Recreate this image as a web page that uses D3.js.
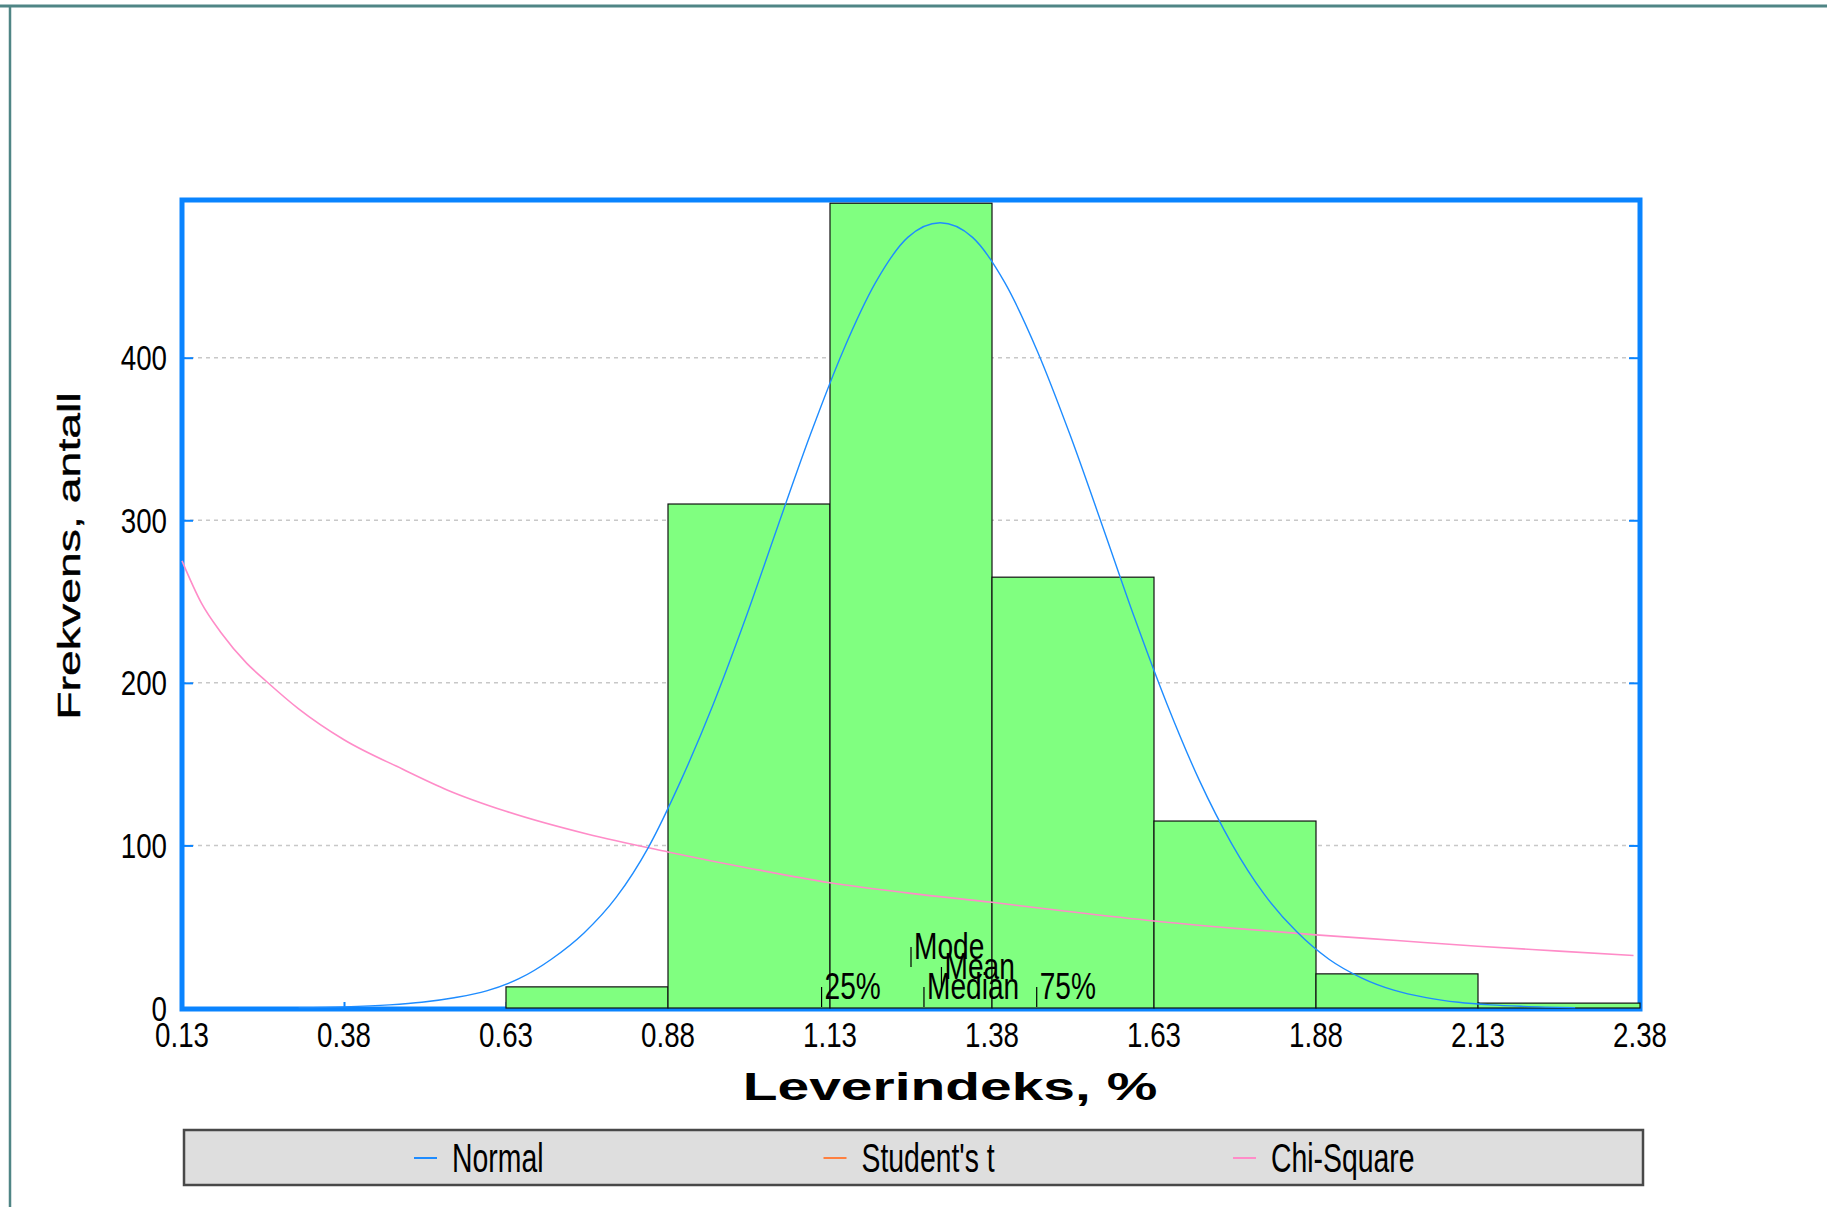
<!DOCTYPE html>
<html>
<head>
<meta charset="utf-8">
<script src="https://cdn.jsdelivr.net/npm/d3@7"></script>
<style>
  body { margin: 0; background: #fff; }
  text { font-family: "Liberation Sans", Arial, sans-serif; fill: #000; }
</style>
</head>
<body>
<script>
  // histogram bins (edges = x tick labels) and counts
  var xTicks = [0.13, 0.38, 0.63, 0.88, 1.13, 1.38, 1.63, 1.88, 2.13, 2.38];
  var yTicks = [0, 100, 200, 300, 400];
  var counts = [0, 0, 13, 310, 495, 265, 115, 21, 3];

  // fitted normal curve
  var normalX = [0.31, 0.38, 0.45, 0.50, 0.55, 0.60, 0.65, 0.70, 0.75, 0.80, 0.85, 0.90, 0.95, 1.00,
    1.05, 1.10, 1.15, 1.20, 1.25, 1.30, 1.35, 1.40, 1.45, 1.50, 1.55, 1.60, 1.65, 1.70, 1.75,
    1.80, 1.85, 1.90, 1.95, 2.00, 2.05, 2.10, 2.15, 2.20, 2.28];
  var normalY = [0.2, 0.7, 1.9, 3.5, 6.3, 10.5, 18, 30, 46, 68, 99, 140, 187, 240,
    297, 353, 404, 446, 474, 483, 474, 446, 404, 353, 297, 240, 187, 140, 101,
    70, 47, 30, 18.6, 11, 6.4, 3.5, 1.9, 1, 0.2];

  // chi-square curve
  var chiX = [0.13, 0.16, 0.19, 0.23, 0.26, 0.31, 0.38, 0.47, 0.54, 0.63, 0.755, 0.88, 1.005, 1.13, 1.255,
    1.38, 1.505, 1.63, 1.755, 1.88, 2.005, 2.13, 2.255, 2.37];
  var chiY = [275, 249, 231, 212, 201, 184, 165, 147, 134, 121, 107, 96, 86, 77, 70.5,
    65, 59, 53.5, 49, 45, 41.5, 38, 35, 32.3];

  // statistic markers (placement order: quartiles, median, mean, mode)
  var markerNames = ["25%", "Median", "75%", "Mean", "Mode"];
  var markerValues = [1.117, 1.275, 1.449, 1.302, 1.255];

  var legendNames = ["Normal", "Student's t", "Chi-Square"];
  var legendColors = ["#1e8cff", "#ff8040", "#ff8cc8"];

  var W = 1827, H = 1207;
  var pLeft = 182, pRight = 1640, pTop = 200, pBottom = 1008;
  var blue = "#0a84ff";

  var svg = d3.select("body").append("svg")
    .attr("width", W)
    .attr("height", H);

  // outer frame
  svg.append("line").attr("x1", 0).attr("x2", W).attr("y1", 6).attr("y2", 6)
    .style("stroke", "#4f8585").style("stroke-width", 3);
  svg.append("line").attr("x1", 10).attr("x2", 10).attr("y1", 5).attr("y2", H)
    .style("stroke", "#4f8585").style("stroke-width", 2.5);

  var x = d3.scaleLinear().domain([0.13, 2.38]).range([pLeft, pRight]);
  var y = d3.scaleLinear().domain([0, 497]).range([pBottom, pTop]);

  // dashed grid
  svg.selectAll("line.grid")
    .data(yTicks.slice(1))
    .enter()
    .append("line")
    .attr("class", "grid")
    .attr("x1", pLeft).attr("x2", pRight)
    .attr("y1", function(d){ return y(d); })
    .attr("y2", function(d){ return y(d); })
    .style("stroke", "#c8c8c8")
    .style("stroke-width", 1.5)
    .style("stroke-dasharray", "4,4");

  // small blue ticks on both sides and bottom
  var yl = svg.append("g").attr("transform", "translate(" + pLeft + ",0)")
    .call(d3.axisRight(y).tickValues(yTicks.slice(1)).tickSize(11).tickFormat(""));
  var yr = svg.append("g").attr("transform", "translate(" + pRight + ",0)")
    .call(d3.axisLeft(y).tickValues(yTicks.slice(1)).tickSize(11).tickFormat(""));
  var xb = svg.append("g").attr("transform", "translate(0," + pBottom + ")")
    .call(d3.axisTop(x).tickValues(xTicks).tickSize(6).tickFormat(""));
  [yl, yr, xb].forEach(function(g){
    g.select(".domain").remove();
    g.selectAll("line").style("stroke", blue).style("stroke-width", 2);
  });

  // plot border
  svg.append("rect")
    .attr("x", pLeft).attr("y", pTop)
    .attr("width", pRight - pLeft).attr("height", pBottom + 1 - pTop)
    .style("fill", "none")
    .style("stroke", blue)
    .style("stroke-width", 5);

  // bars
  var bins = counts.map(function(c, i){ return [xTicks[i], xTicks[i + 1], c]; })
    .filter(function(d){ return d[2] > 0; });
  svg.selectAll("rect.bar")
    .data(bins)
    .enter()
    .append("rect")
    .attr("class", "bar")
    .attr("x", function(d){ return x(d[0]); })
    .attr("y", function(d){ return y(d[2]); })
    .attr("width", function(d){ return x(d[1]) - x(d[0]); })
    .attr("height", function(d){ return y(0) - y(d[2]); })
    .style("fill", "#80ff80")
    .style("stroke", "#111")
    .style("stroke-width", 1.2);

  // curves
  var line = d3.line()
    .x(function(d){ return x(d[0]); })
    .y(function(d){ return y(d[1]); })
    .curve(d3.curveMonotoneX);

  svg.append("path")
    .datum(chiX.map(function(v, i){ return [v, chiY[i]]; }))
    .attr("d", line)
    .style("fill", "none")
    .style("stroke", legendColors[2])
    .style("stroke-width", 1.6);

  svg.append("path")
    .datum(normalX.map(function(v, i){ return [v, normalY[i]]; }))
    .attr("d", line)
    .style("fill", "none")
    .style("stroke", legendColors[0])
    .style("stroke-width", 1.4);

  // stretched text helper
  function stext(g, str, px, py, size, sx, anchor, weight){
    return g.append("text")
      .attr("transform", "translate(" + px + "," + py + ") scale(" + sx + ",1)")
      .attr("text-anchor", anchor || "start")
      .style("font-size", size + "px")
      .style("font-weight", weight || "normal")
      .text(str);
  }

  // markers, stacked upward when they collide
  var rows = [];
  var mg = svg.append("g");
  markerNames.forEach(function(name, i){
    var px = x(markerValues[i]);
    var t = stext(mg, name, px + 4, 0, 37, 0.76);
    var w = t.node().getComputedTextLength() * 0.76 + 6;
    var r = 0;
    while (rows[r] && rows[r].some(function(s){ return px < s[1] && px + w > s[0]; })) r++;
    (rows[r] = rows[r] || []).push([px, px + w]);
    t.attr("transform", "translate(" + (px + 3) + "," + (999 - 20 * r) + ") scale(0.76,1)");
    mg.append("line")
      .attr("x1", px).attr("x2", px)
      .attr("y1", pBottom - 1 - 20 * r).attr("y2", pBottom - 21 - 20 * r)
      .style("stroke", "#000").style("stroke-width", 1.2);
  });

  // tick labels
  yTicks.forEach(function(v){
    stext(svg, v, 167, y(v) + 12.5, 36, 0.77, "end");
  });
  xTicks.forEach(function(v){
    stext(svg, d3.format(".2f")(v), x(v), 1047, 36, 0.77, "middle");
  });

  // axis titles
  stext(svg, "Leverindeks, %", 950, 1100, 39, 1.46, "middle", "bold");
  svg.append("text")
    .attr("transform", "translate(80,556) rotate(-90) scale(1.45,1)")
    .attr("text-anchor", "middle")
    .style("font-size", "32px")
    .style("font-weight", 500)
    .style("stroke", "#000")
    .style("stroke-width", 0.4)
    .text("Frekvens, antall");

  // legend
  svg.append("rect")
    .attr("x", 184).attr("y", 1130)
    .attr("width", 1459).attr("height", 55)
    .style("fill", "#dedede")
    .style("stroke", "#484848")
    .style("stroke-width", 2.5);

  legendNames.forEach(function(name, i){
    var lx = 414 + i * 409.5;
    svg.append("line")
      .attr("x1", lx).attr("x2", lx + 23)
      .attr("y1", 1158).attr("y2", 1158)
      .style("stroke", legendColors[i])
      .style("stroke-width", 2);
    stext(svg, name, lx + 38, 1172, 40, 0.71);
  });
</script>
</body>
</html>
